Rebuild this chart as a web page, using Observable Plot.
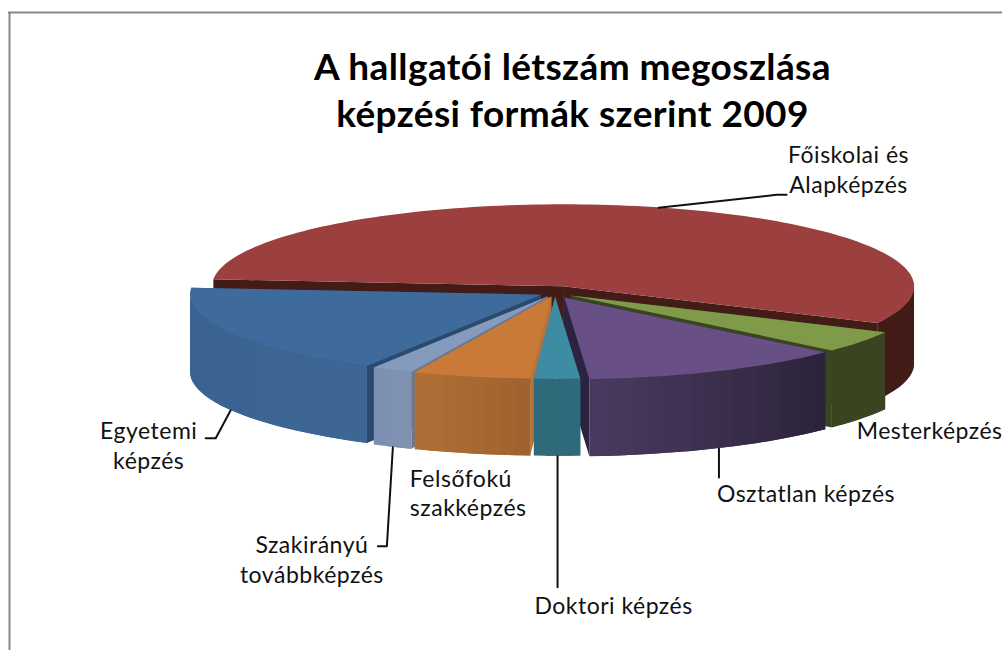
<!DOCTYPE html>
<html>
<head>
<meta charset="utf-8">
<script src="https://cdn.jsdelivr.net/npm/d3@7"></script>
<script src="https://cdn.jsdelivr.net/npm/@observablehq/plot@0.6"></script>
<style>
html,body{margin:0;padding:0;background:#fff;overflow:hidden}
svg{display:block}
g[font-size="23"]{letter-spacing:.5px}
g[font-size="37"]{letter-spacing:.4px}
</style>
</head>
<body>
<div id="chart"></div>
<script>
// Data (shares in percent, in drawing order around the pie)
const categories = ["Egyetemi képzés","Szakirányú továbbképzés","Felsőfokú szakképzés","Doktori képzés","Osztatlan képzés","Mesterképzés","Főiskolai és Alapképzés"];
const shares = [18.1, 1.9, 5.4, 2.1, 12.2, 4.3, 56.0];
const titleLines = ["A hallgatói létszám megoszlása","képzési formák szerint 2009"];

// Styles
const topColors  = ["#3f6a9c","#849bbd","#c97a38","#3d8ca3","#684f85","#7f9a49","#9c3f3f"];
const wallFrom   = ["#39628f","#7c90b1","#b06f35","#2f6a7b","#4b3a60","#3a4420","#431b17"];
const wallTo     = ["#3d6694","#7f91b0","#a0622e","#2f6a7b","#2b2339","#3a4420","#431b17"];
const cutColors  = ["#2a4a6e","#69778f","#b8733a","#2f6a7b","#2c2340","#3a4420","#431b17"];
const explodes   = [.045,.045,.045,.045,.06,.055,.085];
const paintOrder = [6,0,5,1,4,2,3];

// Pie layout
const cx = 555, cy = 293, rx = 351, ry = 82, depth = 77, startAngle = -94.9;
const rad = d => d * Math.PI / 180;

let acc = startAngle;
const slices = shares.map((s, i) => {
  const a0 = acc, a1 = acc + s * 3.6; acc = a1;
  const mid = (a0 + a1) / 2;
  const ax = cx + explodes[i] * rx * Math.sin(rad(mid));
  const ay = cy + explodes[i] * ry * Math.cos(rad(mid));
  const pt = a => [ax + rx * Math.sin(rad(a)), ay + ry * Math.cos(rad(a))];
  return {i, a0, a1, mid, ax, ay, pt};
});

// Each face is one z-series of an area: (x1,y1) one edge, (x2,y2) the other
const rows = [];
function addFace(id, color, pairs) {
  for (const [p, q] of pairs) rows.push({id, color, x1: p[0], y1: p[1], x2: q[0], y2: q[1]});
}
for (const k of paintOrder) {
  const s = slices[k];
  const down = p => [p[0], p[1] + depth];
  const apex = [s.ax, s.ay];
  // cut faces
  for (const a of [s.a0, s.a1]) {
    addFace(`cut-${k}-${a}`, cutColors[k], [[apex, down(apex)], [s.pt(a), down(s.pt(a))]]);
  }
  // outer wall in shaded strips, front half only; every strip reaches under the next one
  const n = Math.max(1, Math.ceil((s.a1 - s.a0) / 2.5));
  const mix = d3.interpolateRgb(wallFrom[k], wallTo[k]);
  const step = (s.a1 - s.a0) / n;
  for (let j = 0; j < n; j++) {
    const b0 = s.a0 + step * j, b1 = s.a0 + step * (j + 1);
    if (Math.cos(rad((b0 + b1) / 2)) < 0) continue;
    const pairs = [];
    const end = j < n - 1 ? b1 + step : b1;
    for (const b of [b0, (b0 + end) / 2, end]) pairs.push([s.pt(b), down(s.pt(b))]);
    addFace(`wall-${k}-${j}`, d3.color(mix((j + .5) / n)).formatHex(), pairs);
  }
  // top face
  const arc = [];
  const m = Math.ceil((s.a1 - s.a0) / 1.5);
  for (let j = 0; j <= m; j++) arc.push([s.pt(s.a0 + (s.a1 - s.a0) * j / m), apex]);
  addFace(`top-${k}`, topColors[k], arc);
}

// Labels: anchored on the middle of each slice's outer edge, with an offset to the text
const labelLines = ["Egyetemi\nképzés","Szakirányú\ntovábbképzés","Felsőfokú\nszakképzés","Doktori képzés","Osztatlan képzés","Mesterképzés","Főiskolai és\nAlapképzés"];
const labelOffsets = [[-82,34],[-81,111],[-62,38],[56,148],[87,44],[-5,10],[190,-39]];
const leftAligned = [2,5];
// leader paths as offsets from the anchor (the outer edge, top or bottom)
const leaderPaths = [
  [[0,0],[-15,28],[-25,28]],
  [[0,0],[-6,99],[-15,99]],
  null,
  [[0,0],[0,131]],
  [[0,0],[0,29]],
  null,
  [[0,0],[118,-13],[128,-13]]
];
const anchors = slices.map(s => {
  const p = s.pt(s.mid);
  return s.i === 6 ? p : [p[0], p[1] + depth];
});
const labelRows = labelLines.map((t, i) => ({
  t, i, x: anchors[i][0] + labelOffsets[i][0], y: anchors[i][1] + labelOffsets[i][1]
}));
const leaderRows = leaderPaths.flatMap((path, i) => path ? path.map(o => ({i, x: anchors[i][0] + o[0], y: anchors[i][1] + o[1]})) : []);
const labelStyle = {x: "x", y: "y", text: "t", fontFamily: "Lato", fontSize: 23, fill: "#111", lineHeight: 1.3, lineAnchor: "middle"};

const chart = Plot.plot({
  width: 1002, height: 650,
  margin: 0,
  style: {background: "#fff"},
  x: {domain: [0, 1002], range: [0, 1002], axis: null},
  y: {domain: [0, 650], range: [0, 650], axis: null},
  marks: [
    Plot.ruleX([9], {y1: 12, y2: 650, stroke: "#888", strokeWidth: 2}),
    Plot.ruleY([12], {x1: 8, x2: 1002, stroke: "#888", strokeWidth: 2}),
    Plot.area(rows, {x1: "x1", y1: "y1", x2: "x2", y2: "y2", z: "id", fill: "color"}),
    Plot.line(leaderRows, {x: "x", y: "y", z: "i", stroke: "#111", strokeWidth: 2, curve: "linear"}),
    Plot.text(labelRows.filter(d => !leftAligned.includes(d.i)), {...labelStyle, textAnchor: "middle"}),
    Plot.text(labelRows.filter(d => leftAligned.includes(d.i)), {...labelStyle, textAnchor: "start"}),
    Plot.text(titleLines, {x: () => 572, y: (d, i) => 68 + i * 47, text: d => d, fontFamily: "Lato", fontWeight: 700, fontSize: 37, fill: "#000", textAnchor: "middle", lineAnchor: "middle"})
  ]
});
document.getElementById("chart").appendChild(chart);
</script>
</body>
</html>
